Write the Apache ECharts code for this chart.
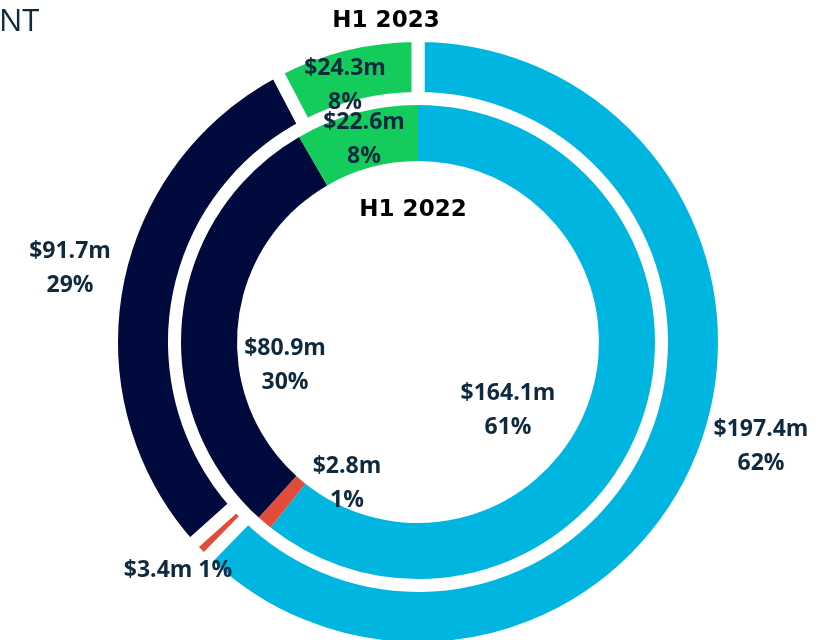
<!DOCTYPE html>
<html>
<head>
<meta charset="utf-8">
<script src="https://cdn.jsdelivr.net/npm/echarts@6/dist/echarts.min.js"></script>
<style>html,body{margin:0;padding:0;background:#fff}#c{width:836px;height:640px}</style>
</head>
<body>
<div id="c"></div>
<script>
const categories = ['Segment A', 'Segment B', 'Segment C', 'Segment D'];
const colors = ['#00b6e0', '#e24c3b', '#000a3c', '#13cc5c'];
const values2023 = [197.4, 3.4, 91.7, 24.3];
const pct2023 = ['62%', '1%', '29%', '8%'];
const values2022 = [164.1, 2.8, 80.9, 22.6];
const pct2022 = ['61%', '1%', '30%', '8%'];
const ringTitles = ['H1 2023', 'H1 2022'];
const headerText = 'NT';

// label placement (layout only)
const outerLabelPos = [[761, 446], [178, 570], [70, 268], [345, 85]];
const innerLabelPos = [[508, 410], [347, 483], [285, 365], [364, 139]];

const labelColor = '#0f2a3f';
function mkData(vals, pcts, oneLineIdx) {
  return vals.map((v, i) => ({
    name: categories[i], value: v,
    itemStyle: { color: colors[i] },
    label: { formatter: '$' + v.toFixed(1) + 'm' + (i === oneLineIdx ? ' ' : '\n') + pcts[i] }
  }));
}
const labelStyle = {
  show: true, position: 'inside', color: labelColor,
  fontFamily: 'Open Sans', fontWeight: 'bold', fontSize: 23, lineHeight: 34, align: 'center'
};
function layoutFn(pos) {
  return function (p) {
    const q = pos[p.dataIndex];
    return { x: q[0], y: q[1], align: 'center', verticalAlign: 'middle' };
  };
}
const chart = echarts.init(document.getElementById('c'));
chart.setOption({
  backgroundColor: '#fff',
  animation: false,
  graphic: [
    { type: 'text', left: -1, top: 7, style: { text: headerText, fill: '#0d2a3f', font: '31px "Open Sans"' } },
    { type: 'text', x: 386, y: 21, style: { text: ringTitles[0], fill: '#000', font: 'bold 23px "DejaVu Sans"', align: 'center', verticalAlign: 'middle' } },
    { type: 'text', x: 413, y: 210, style: { text: ringTitles[1], fill: '#000', font: 'bold 23px "DejaVu Sans"', align: 'center', verticalAlign: 'middle' } }
  ],
  series: [
    {
      type: 'pie', center: [418, 342], radius: [243.5, 306.5], startAngle: 90, clockwise: true,
      itemStyle: { borderColor: '#fff', borderWidth: 13 },
      label: labelStyle, labelLine: { show: false },
      labelLayout: layoutFn(outerLabelPos),
      emphasis: { disabled: true },
      data: mkData(values2023, pct2023, 1)
    },
    {
      type: 'pie', center: [418, 342], radius: [181, 237], startAngle: 90, clockwise: true,
      itemStyle: { borderWidth: 0 },
      label: labelStyle, labelLine: { show: false },
      labelLayout: layoutFn(innerLabelPos),
      emphasis: { disabled: true },
      data: mkData(values2022, pct2022, -1)
    }
  ]
});
</script>
</body>
</html>
